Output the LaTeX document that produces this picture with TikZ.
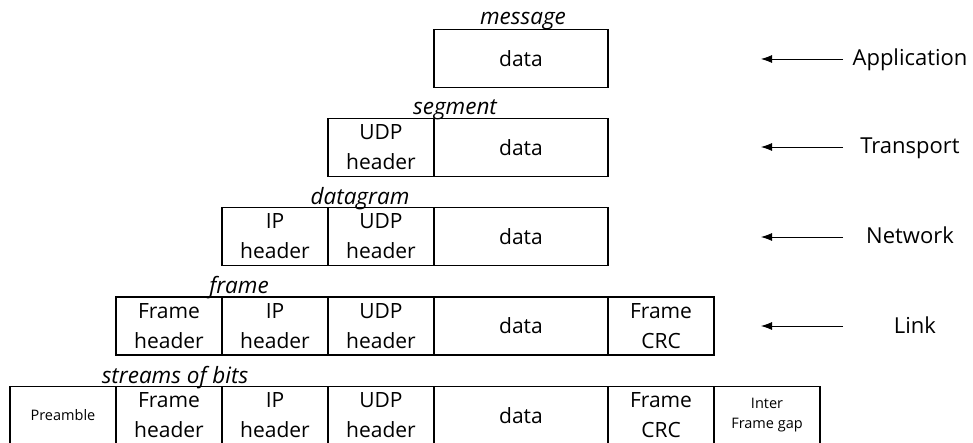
\documentclass[tikz,border=0pt]{standalone}
\usepackage{fontspec}
\setmainfont{Open Sans}
\usetikzlibrary{arrows.meta}

\begin{document}
\begin{tikzpicture}
  [
    x=1pt, y=-1pt,
    cell/.style={draw, line width=1.6pt, minimum height=58pt, inner sep=0pt,
      align=center, font=\fontsize{21}{30}\selectfont},
    narrow/.style={cell, minimum width=106pt},
    wide/.style={cell, minimum width=174pt},
    small/.style={font=\fontsize{14.5}{20}\selectfont},
    tag/.style={anchor=base, font=\fontsize{22.5}{24}\selectfont\itshape},
    layer/.style={anchor=base, font=\fontsize{22}{24}\selectfont},
    down/.style={-{Latex[length=11pt,width=8pt]}, line width=0.8pt}
  ]
  \useasboundingbox (0,0) rectangle (973,443);
  % message
  \node[wide] (msgdata) at (521,58.5) {data};
  \node[tag] (msgtag) at (523,25) {message};
  % segment
  \node[narrow] (segudp) at (381,147.5) {UDP\\header};
  \node[wide] (segdata) at (521,147.5) {data};
  \node[tag] (segtag) at (455,115) {segment};
  % datagram
  \node[narrow] (dgip) at (275,236.5) {IP\\header};
  \node[narrow] (dgudp) at (381,236.5) {UDP\\header};
  \node[wide] (dgdata) at (521,236.5) {data};
  \node[tag] (dgtag) at (360,205) {datagram};
  % frame
  \node[narrow] (frfh) at (169,326) {Frame\\header};
  \node[narrow] (frip) at (275,326) {IP\\header};
  \node[narrow] (frudp) at (381,326) {UDP\\header};
  \node[wide] (frdata) at (521,326) {data};
  \node[narrow] (frcrc) at (661,326) {Frame\\CRC};
  \node[tag] (frtag) at (239,294) {frame};
  % streams of bits
  \node[narrow, small] (bitpre) at (63,415.5) {Preamble};
  \node[narrow] (bitfh) at (169,415.5) {Frame\\header};
  \node[narrow] (bitip) at (275,415.5) {IP\\header};
  \node[narrow] (bitudp) at (381,415.5) {UDP\\header};
  \node[wide] (bitdata) at (521,415.5) {data};
  \node[narrow] (bitcrc) at (661,415.5) {Frame\\CRC};
  \node[narrow, small] (bitgap) at (767,415.5) {Inter\\Frame gap};
  \node[tag] (bittag) at (175,383) {streams of bits};
  % layers
  \foreach \nm/\lbl/\x/\y in {app/Application/910/59, trans/Transport/910/147,
      net/Network/910/237, link/Link/915/326} {
    \node[layer] (\nm) at (\x,\y+7) {\lbl};
    \coordinate (\nm from) at (843,\y);
    \coordinate (\nm to) at (761,\y);
    \draw[down] (\nm from) -- (\nm to);
  }
\end{tikzpicture}
\end{document}
